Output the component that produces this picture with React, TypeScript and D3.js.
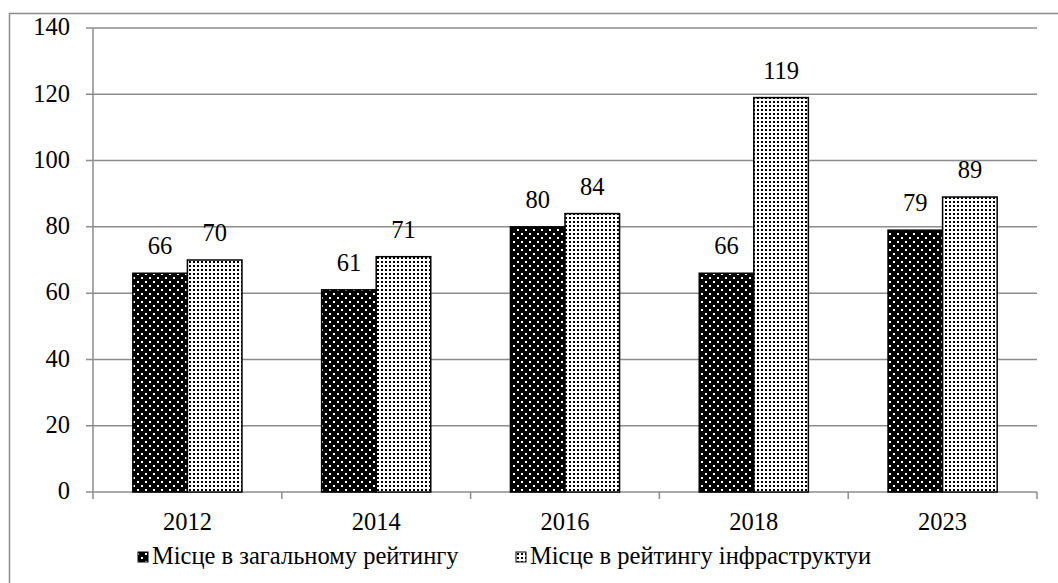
import React from 'react';
import * as d3 from 'd3';

const years = ['2012', '2014', '2016', '2018', '2023'];
const overall = [66, 61, 80, 66, 79];
const infra = [70, 71, 84, 119, 89];
const seriesNames = ['Місце в загальному рейтингу', 'Місце в рейтингу інфраструктуи'];
const yTicks = [0, 20, 40, 60, 80, 100, 120, 140];

const W = 1058;
const H = 583;
const margin = { left: 93, right: 21, top: 28, bottom: 91 };
const font = "'Liberation Serif', 'Times New Roman', serif";
const fs = 24.5;

const App = () => {
  const x = d3.scaleBand<string>()
    .domain(years)
    .range([margin.left, W - margin.right]);
  const y = d3.scaleLinear()
    .domain([0, 140])
    .range([H - margin.bottom, margin.top]);
  const barW = x.bandwidth() * 0.289;
  const series = [overall, infra];
  const fills = ['url(#darkDots)', 'url(#lightDots)'];
  const base = y(0);
  const txt = { fontFamily: font, fontSize: fs };

  return (
    <svg width={W} height={H} style={{ position: 'absolute', left: 0, top: 0, background: '#fff' }}>
      <defs>
        <pattern id="darkDots" width={8} height={8} patternUnits="userSpaceOnUse">
          <rect width={8} height={8} fill="#000" />
          <rect x={1} y={1} width={2} height={2} fill="#fff" />
          <rect x={5} y={5} width={2} height={2} fill="#fff" />
        </pattern>
        <pattern id="lightDots" width={4} height={4} patternUnits="userSpaceOnUse">
          <rect width={4} height={4} fill="#fff" />
          <rect x={1} y={1} width={2} height={2} fill="#000" />
        </pattern>
      </defs>

      {/* outer frame */}
      <rect x={9.5} y={13.5} width={1060} height={600} fill="none" stroke="#8c8c8c" strokeWidth={1.5} />

      {/* gridlines and y ticks */}
      {yTicks.map(t => (
        <g key={t}>
          <line x1={margin.left - 7} x2={W - margin.right} y1={y(t)} y2={y(t)} stroke="#8c8c8c" strokeWidth={1.5} />
          <text x={margin.left - 23} y={y(t)} dy="0.3em" textAnchor="end" style={txt} fill="#000">{t}</text>
        </g>
      ))}
      <line x1={margin.left} x2={margin.left} y1={margin.top} y2={base} stroke="#8c8c8c" strokeWidth={1.5} />

      {/* category ticks */}
      {years.map(yr => (
        <line key={'t' + yr} x1={(x(yr) as number) + x.bandwidth()} x2={(x(yr) as number) + x.bandwidth()} y1={base} y2={base + 7} stroke="#8c8c8c" strokeWidth={1.5} />
      ))}
      <line x1={margin.left} x2={margin.left} y1={base} y2={base + 7} stroke="#8c8c8c" strokeWidth={1.5} />

      {/* bars */}
      {years.map((yr, i) => {
        const cx = (x(yr) as number) + x.bandwidth() / 2;
        return (
          <g key={yr}>
            {series.map((s, j) => {
              const bx = cx - barW + j * barW;
              return (
                <g key={j}>
                  <rect x={bx} y={y(s[i])} width={barW} height={base - y(s[i])} fill={fills[j]} stroke="#000" strokeWidth={1.5} />
                  <text x={bx + barW / 2} y={y(s[i]) - 19} textAnchor="middle" style={txt} fill="#000">{s[i]}</text>
                </g>
              );
            })}
            <text x={cx} y={base + 38} textAnchor="middle" style={txt} fill="#000">{yr}</text>
          </g>
        );
      })}

      {/* legend */}
      {seriesNames.map((name, j) => {
        const lx = [138, 516][j];
        return (
          <g key={name}>
            <rect x={lx} y={552} width={10} height={10} fill={fills[j]} stroke="#000" strokeWidth={1} />
            <text x={lx + 14} y={564} style={txt} fill="#000">{name}</text>
          </g>
        );
      })}
    </svg>
  );
};

export default App;
